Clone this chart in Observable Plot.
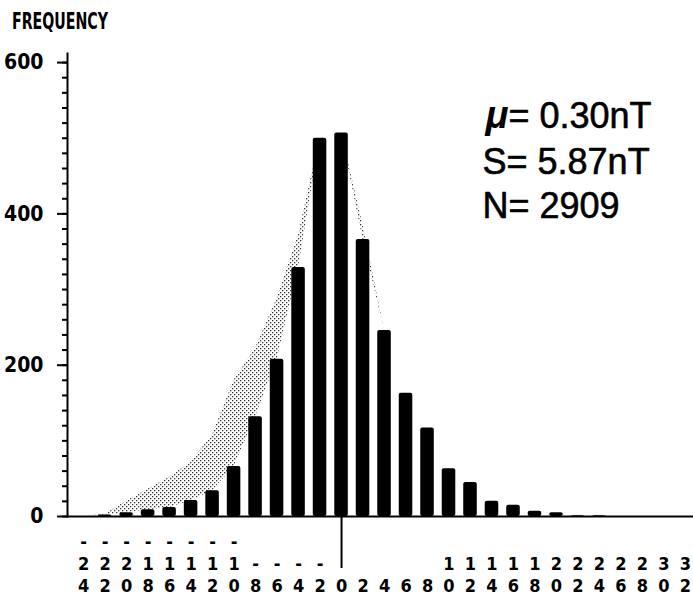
<!DOCTYPE html>
<html><head><meta charset="utf-8">
<script src="https://cdn.jsdelivr.net/npm/d3@7"></script>
<script src="https://cdn.jsdelivr.net/npm/@observablehq/plot@0.6"></script>
<style>
body{margin:0;background:#fff;}
#chart{width:693px;background:#fff;}
#head{display:block;}
.cond{font-family:"DejaVu Sans Condensed","DejaVu Sans",sans-serif;font-stretch:condensed;font-weight:bold;}
</style></head><body>
<div id="chart"></div>
<script>
// ---- data ----
const binCenters = [-24,-22,-20,-18,-16,-14,-12,-10,-8,-6,-4,-2,0,2,4,6,8,10,12,14,16,18,20,22,24,26,28,30,32];
const counts     = [0,2,5,9,12,21,34,66,132,208,329,500,507,366,246,163,117,63,45,20,15,7,5,1,1,0,0,0,0];
// stippled envelope (comparison distribution) on the left side
const envX       = [-24,-22,-20,-18,-16,-14,-12,-10,-8,-6,-4,-2,0,2,4];
const envCounts  = [0,3,20,36,52,72,108,180,222,288,372,415,440,385,246];
const yTickValues = [0,200,400,600];
const yMinorTicks = d3.range(0, 601, 20);
const yTitle = "FREQUENCY";
const statMuSymbol = "μ";
const statMu = "= 0.30nT";
const statLines = ["S= 5.87nT", "N= 2909"];

const bars = binCenters.map((x, i) => ({x, count: counts[i]}));
const band = envX.map((x, i) => {
  const c = counts[binCenters.indexOf(x)];
  return {x, lower: c, upper: Math.max(envCounts[i], c)};
});

const condFont = '"DejaVu Sans Condensed","DejaVu Sans",sans-serif';
const statFont = '"Liberation Sans", Arial, Helvetica, sans-serif';

// header (y-axis title)
const head = d3.select("#chart").append("svg").attr("id","head").attr("width",693).attr("height",40);
head.append("text").attr("class","cond").attr("x",12).attr("y",29).attr("font-size",23)
  .attr("textLength",96).attr("lengthAdjust","spacingAndGlyphs").text(yTitle);

const svg = Plot.plot({
  width: 693,
  height: 556,
  marginTop: 13,
  marginBottom: 80,
  marginLeft: 67,
  marginRight: 0,
  style: {background: "#fff", color: "#000", overflow: "visible"},
  x: {domain: [-25.5, 32.75], axis: null},
  y: {domain: [0, 612], axis: null},
  marks: [
    Plot.area(band, {x1: "x", y1: "lower", y2: "upper", fill: "url(#stipple)", curve: "linear"}),
    Plot.rect(bars, {x1: d => d.x - 0.63, x2: d => d.x + 0.63, y1: 0, y2: "count", fill: "#000", rx: 2}),
    Plot.ruleY([0], {stroke: "#000", strokeWidth: 2}),
    Plot.frame({anchor: "left", stroke: "#000", strokeWidth: 2}),
    // y axis: minor ticks, major ticks + labels
    Plot.axisY({ticks: yMinorTicks, tickSize: 5, text: null, strokeWidth: 2, label: null}),
    Plot.axisY({ticks: yTickValues, tickSize: 10, tickPadding: 14, tickFormat: d => String(d), label: null,
      strokeWidth: 2, fontSize: 21, fontFamily: condFont, fontWeight: "bold"}),
    // x axis: long tick at zero, stacked vertical labels
    Plot.axisX({ticks: [0], tickSize: 52, strokeWidth: 2, text: null, label: null}),
    Plot.axisX({ticks: binCenters, tickSize: 0, tickPadding: 75, label: null,
      tickFormat: d => String(d).split("").join("\n"), lineAnchor: "bottom", lineHeight: 1.2,
      fontSize: 18, fontFamily: condFont, fontWeight: "bold"}),
    // statistics
    Plot.text([statMuSymbol], {text: d => d, frameAnchor: "top-left", dx: 441, dy: 74, textAnchor: "end",
      lineAnchor: "bottom", fontSize: 38, fontFamily: statFont, fontWeight: "bold", fontStyle: "italic", fill: "#000"}),
    Plot.text([statMu], {text: d => d, frameAnchor: "top-left", dx: 441, dy: 74, textAnchor: "start",
      lineAnchor: "bottom", fontSize: 36, fontFamily: statFont, fill: "#000", stroke: "#000", strokeWidth: 0.6}),
    Plot.text([statLines.join("\n")], {text: d => d, frameAnchor: "top-left", dx: 415, dy: 164, textAnchor: "start",
      lineAnchor: "bottom", lineHeight: 1.2, fontSize: 36, fontFamily: statFont, fill: "#000", stroke: "#000", strokeWidth: 0.6})
  ]
});

const defs = d3.select(svg).insert("defs", ":first-child");
const pat = defs.append("pattern").attr("id","stipple").attr("patternUnits","userSpaceOnUse")
  .attr("width",4).attr("height",4);
pat.append("rect").attr("x",0).attr("y",0).attr("width",1.3).attr("height",1.3).attr("fill","#333");
pat.append("rect").attr("x",2).attr("y",2).attr("width",1.3).attr("height",1.3).attr("fill","#333");

document.getElementById("chart").appendChild(svg);
</script>
</body></html>
